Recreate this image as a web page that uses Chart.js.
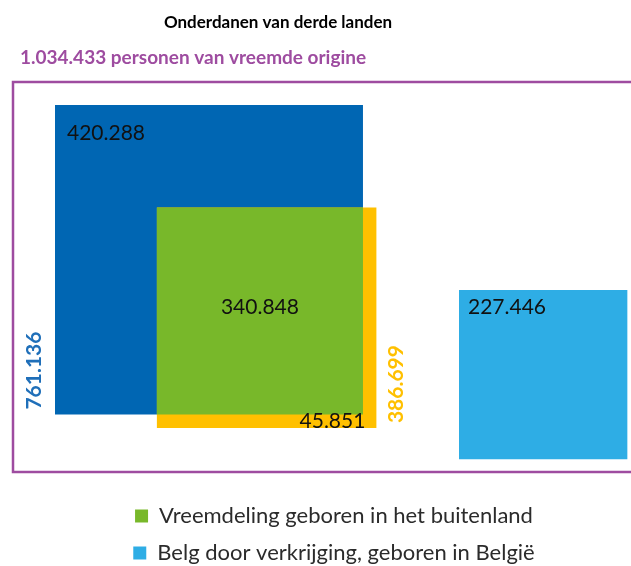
<!DOCTYPE html>
<html>
<head>
<meta charset="utf-8">
<script src="https://cdn.jsdelivr.net/npm/chart.js@4.4.1/dist/chart.umd.min.js"></script>
<style>
  html, body { margin: 0; padding: 0; background: #fff; }
  #wrap { width: 631px; height: 566px; }
</style>
</head>
<body>
<div id="wrap"><canvas id="vennChart"></canvas></div>
<script>
// Gegevens (personen)
const chartTitle = 'Onderdanen van derde landen';
const totalLabel = '1.034.433 personen van vreemde origine';
const setNames = ['Vreemde nationaliteit', 'Geboren in het buitenland'];
const setTotals = [761136, 386699];
const partNames = ['Alleen vreemde nationaliteit', 'Vreemdeling geboren in het buitenland', 'Alleen geboren in het buitenland', 'Belg door verkrijging, geboren in België'];
const partValues = [420288, 340848, 45851, 227446];
const legendNames = ['Vreemdeling geboren in het buitenland', 'Belg door verkrijging, geboren in België'];

const COLORS = { blue: '#0066b3', yellow: '#ffc000', green: '#78b82a', light: '#2eade5', purple: '#9e4ca0' };
const FONT = 'Lato';

// oppervlakte ~ aantal personen: zijde = sqrt(waarde), k = pixels per eenheid
const k = 0.353;
const area = { left: 37, top: 81, width: 631 - 37, height: 488 - 81 };
const toUnitX = px => (px - area.left) / k;
const toUnitY = py => (py - area.top) / k;

function fmt(n) {
    return String(n).replace(/\B(?=(\d{3})+(?!\d))/g, '.');
}

function rect(x0, y0, w, h) {
    return [
        { x: x0, y: y0 }, { x: x0 + w, y: y0 }, { x: x0 + w, y: y0 + h },
        { x: x0, y: y0 + h }, { x: x0, y: y0 }
    ];
}

const sideBlue = Math.sqrt(setTotals[0]);
const sideYellow = Math.sqrt(setTotals[1]);
const sideGreen = Math.sqrt(partValues[1]);
const sideLight = Math.sqrt(partValues[3]);
const shift = sideYellow - sideGreen;

const blueX = toUnitX(55), blueY = toUnitY(105);
const yellowX = blueX + sideBlue + shift - sideYellow;
const yellowY = blueY + sideBlue + shift - sideYellow;
const greenX = yellowX, greenY = yellowY;
const lightX = toUnitX(459), lightY = toUnitY(289);

const blueRect = rect(blueX, blueY, sideBlue, sideBlue);
const yellowRect = rect(yellowX, yellowY, sideYellow, sideYellow);
const greenRect = rect(greenX, greenY, sideGreen, sideGreen);
const lightRect = rect(lightX, lightY, sideLight, sideLight);

function box(label, data, color, order) {
    return { label, data, order, backgroundColor: color, borderColor: color, borderWidth: 0,
        showLine: true, fill: 'shape', pointRadius: 0, pointHoverRadius: 0, tension: 0 };
}

const headerPlugin = {
    id: 'header',
    beforeDraw(chart) {
        const ctx = chart.ctx;
        ctx.save();
        ctx.textBaseline = 'middle';
        ctx.fillStyle = '#000';
        ctx.font = 'bold 17px ' + FONT;
        ctx.textAlign = 'center';
        ctx.fillText(chartTitle, 278, 23);
        ctx.fillStyle = COLORS.purple;
        ctx.font = 'bold 19px ' + FONT;
        ctx.textAlign = 'left';
        ctx.fillText(totalLabel, 20, 58);
        // kader
        ctx.strokeStyle = COLORS.purple;
        ctx.lineWidth = 2.5;
        ctx.strokeRect(13, chart.chartArea.top + 1, 640, 472 - chart.chartArea.top - 1);
        ctx.restore();
    }
};

const labelPlugin = {
    id: 'boxLabels',
    afterDatasetsDraw(chart) {
        const ctx = chart.ctx;
        const xs = chart.scales.x, ys = chart.scales.y;
        const px = v => xs.getPixelForValue(v), py = v => ys.getPixelForValue(v);
        ctx.save();
        ctx.textBaseline = 'middle';
        ctx.fillStyle = '#111';
        ctx.font = '21px ' + FONT;
        ctx.textAlign = 'left';
        ctx.fillText(fmt(partValues[0]), px(blueX) + 12, py(blueY) + 28);
        ctx.textAlign = 'center';
        ctx.fillText(fmt(partValues[1]), px(greenX + sideGreen / 2), py(greenY + sideGreen / 2) - 4);
        ctx.textAlign = 'right';
        ctx.fillText(fmt(partValues[2]), px(yellowX + sideYellow) - 11, py(yellowY + sideYellow) - 7);
        ctx.textAlign = 'left';
        ctx.fillText(fmt(partValues[3]), px(lightX) + 9, py(lightY) + 17);

        ctx.font = 'bold 21px ' + FONT;
        ctx.textAlign = 'left';
        ctx.save();
        ctx.translate(px(blueX) - 21, py(blueY + sideBlue) - 5);
        ctx.rotate(-Math.PI / 2);
        ctx.fillStyle = '#1f6fb9';
        ctx.fillText(fmt(setTotals[0]), 0, 0);
        ctx.restore();
        ctx.save();
        ctx.translate(px(yellowX + sideYellow) + 20, py(yellowY + sideYellow) - 5);
        ctx.rotate(-Math.PI / 2);
        ctx.fillStyle = COLORS.yellow;
        ctx.fillText(fmt(setTotals[1]), 0, 0);
        ctx.restore();
        ctx.restore();
    }
};

new Chart(document.getElementById('vennChart'), {
    type: 'scatter',
    data: {
        datasets: [
            box(partNames[1], greenRect, COLORS.green, 0),
            box(setNames[1], yellowRect, COLORS.yellow, 1),
            box(setNames[0], blueRect, COLORS.blue, 2),
            box(partNames[3], lightRect, COLORS.light, 3)
        ]
    },
    options: {
        responsive: true,
        maintainAspectRatio: false,
        animation: false,
        layout: { padding: { left: area.left, right: 0, top: area.top, bottom: -8 } },
        scales: {
            x: { type: 'linear', display: false, min: 0, max: area.width / k },
            y: { type: 'linear', display: false, reverse: true, min: 0, max: area.height / k }
        },
        plugins: {
            title: { display: false },
            tooltip: { enabled: false },
            legend: {
                position: 'bottom',
                align: 'center',
                labels: {
                    boxWidth: 13,
                    boxHeight: 13,
                    padding: 15,
                    color: '#2b2b2b',
                    font: { family: FONT, size: 22 },
                    filter: item => legendNames.includes(item.text)
                }
            }
        }
    },
    plugins: [headerPlugin, labelPlugin]
});
</script>
</body>
</html>
